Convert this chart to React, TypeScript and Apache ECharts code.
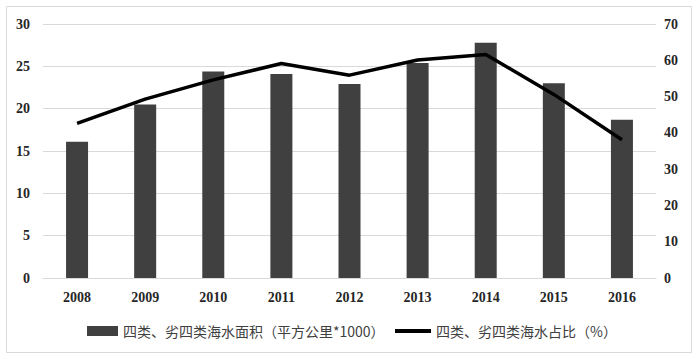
import React, { useEffect, useRef } from "react";
import * as echarts from "echarts";

const years = ["2008", "2009", "2010", "2011", "2012", "2013", "2014", "2015", "2016"];
const areaValues = [16.1, 20.5, 24.4, 24.1, 22.9, 25.4, 27.8, 23.0, 18.7];
const ratioValues = [42.6, 49.3, 54.6, 59.1, 55.9, 60.1, 61.6, 50.6, 38.1];
const barName = "四类、劣四类海水面积（平方公里*1000）";
const lineName = "四类、劣四类海水占比（%）";

export default function App() {
  const ref = useRef<HTMLDivElement>(null);
  useEffect(() => {
    if (!ref.current) return;
    const chart = echarts.init(ref.current, null, { renderer: "svg" });
    const axisLabel = {
      fontFamily: "Liberation Serif",
      fontWeight: "bold" as const,
      fontSize: 14,
      color: "#262626",
    };
    const legendText = {
      fontFamily: "Noto Sans CJK SC",
      fontSize: 14,
      color: "#404040",
    };
    chart.setOption({
      animation: false,
      backgroundColor: "#ffffff",
      graphic: [
        {
          type: "rect",
          shape: { x: 6.5, y: 6.5, width: 685, height: 346 },
          style: { fill: "none", stroke: "#d9d9d9", lineWidth: 1 },
          silent: true,
        },
      ],
      grid: { left: 43, right: 44, top: 24, bottom: 81 },
      legend: [
        {
          data: [barName],
          left: 82,
          top: 319,
          itemWidth: 31,
          itemHeight: 10,
          itemGap: 10,
          icon: "rect",
          textStyle: legendText,
        },
        {
          data: [lineName],
          left: 390,
          top: 319,
          itemWidth: 36,
          itemHeight: 4,
          icon: "rect",
          itemStyle: { color: "#000000" },
          textStyle: legendText,
        },
      ],
      xAxis: {
        type: "category",
        data: years,
        axisLine: { lineStyle: { color: "#d9d9d9", width: 1 } },
        axisTick: { show: false },
        axisLabel: { ...axisLabel, margin: 12 },
      },
      yAxis: [
        {
          type: "value",
          min: 0,
          max: 30,
          interval: 5,
          axisLine: { show: false },
          axisTick: { show: false },
          splitLine: { lineStyle: { color: "#d9d9d9", width: 1 } },
          axisLabel: { ...axisLabel, margin: 13 },
        },
        {
          type: "value",
          min: 0,
          max: 70,
          interval: 10,
          axisLine: { show: false },
          axisTick: { show: false },
          splitLine: { show: false },
          axisLabel: { ...axisLabel, margin: 8 },
        },
      ],
      series: [
        {
          name: barName,
          type: "bar",
          data: areaValues,
          barWidth: 22,
          itemStyle: { color: "#404040" },
          yAxisIndex: 0,
        },
        {
          name: lineName,
          type: "line",
          data: ratioValues,
          yAxisIndex: 1,
          symbol: "none",
          lineStyle: { color: "#000000", width: 3.5 },
          itemStyle: { color: "#000000" },
        },
      ],
    });
    return () => chart.dispose();
  }, []);
  return (
    <div
      ref={ref}
      style={{ position: "fixed", left: 0, top: 0, width: 700, height: 359 }}
    />
  );
}
